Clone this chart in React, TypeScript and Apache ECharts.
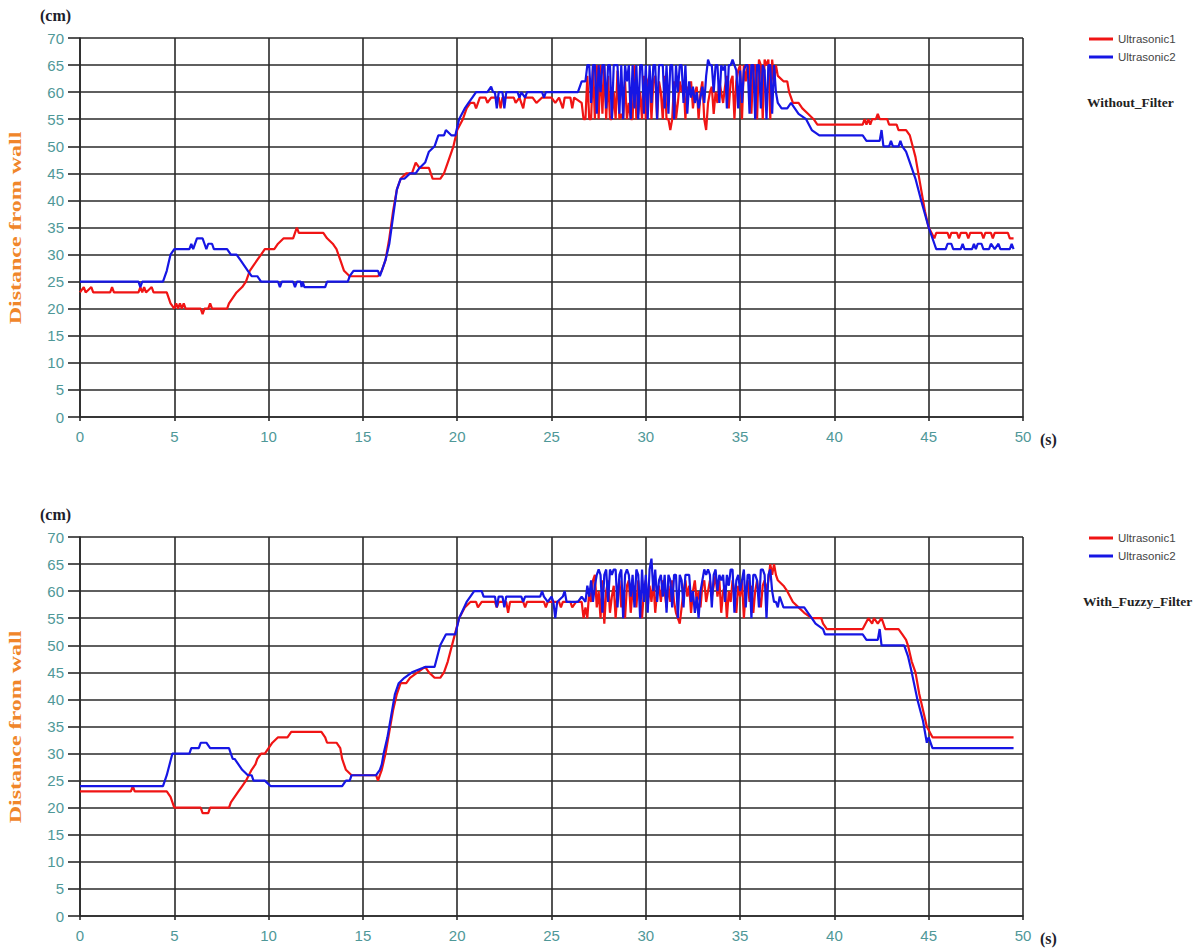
import React, { useEffect, useRef } from "react";
import * as echarts from "echarts";

// ---------- DATA ----------
const seriesNames = ["Ultrasonic1", "Ultrasonic2"];
const panelTitles = ["Without_Filter", "With_Fuzzy_Filter"];
const xMax = 50;
const yMax = 70;
const tickStep = 5;

// Noisy middle section: values sampled every 0.1 s from 26.8 s to 37.0 s
const NOISE_START = 26.8;
const NOISE_STEP = 0.1;

// ---- Top panel (Without_Filter) ----
const topU1Before: [number, number][] = [
  [0, 23], [0.2, 24], [0.3, 23], [0.6, 24], [0.7, 23], [1.6, 23], [1.7, 24], [1.8, 23],
  [3.1, 23], [3.2, 24], [3.3, 23], [3.4, 24], [3.5, 23], [3.8, 24], [3.9, 23], [4.6, 23],
  [4.8, 21], [5.0, 20], [5.1, 21], [5.2, 20], [5.3, 21], [5.4, 20], [5.5, 21], [5.6, 20],
  [6.4, 20], [6.5, 19], [6.6, 20], [6.8, 20], [6.9, 21], [7.0, 20], [7.8, 20], [7.9, 21],
  [8.1, 22], [8.3, 23], [8.6, 24], [8.8, 25], [9.0, 27], [9.2, 28], [9.4, 29], [9.6, 30],
  [9.8, 31], [10.3, 31], [10.5, 32], [10.8, 33], [11.3, 33], [11.4, 34], [11.5, 35], [11.6, 34],
  [12.9, 34], [13.1, 33], [13.4, 32], [13.6, 31], [13.8, 29], [14.0, 27], [14.3, 26], [15.8, 26],
  [16.0, 27], [16.2, 29], [16.4, 33], [16.6, 38], [16.8, 42], [17.0, 44], [17.3, 45], [17.6, 45],
  [17.8, 47], [18.0, 46], [18.5, 46], [18.7, 44], [19.1, 44], [19.3, 45], [19.5, 47], [19.8, 50],
  [20.0, 53], [20.3, 55], [20.5, 57], [20.7, 58], [20.9, 58], [21.0, 57], [21.2, 59], [21.5, 59],
  [21.6, 58], [21.8, 59], [22.2, 59], [22.3, 57], [22.4, 59], [23.0, 59], [23.1, 58], [23.3, 59],
  [23.5, 57], [23.6, 59], [24.0, 59], [24.2, 58], [24.5, 59], [25.0, 59], [25.2, 58], [25.4, 59],
  [25.6, 57], [25.7, 59], [26.0, 59], [26.1, 57], [26.2, 59], [26.6, 58], [26.7, 55],
];
const topU1Noise: number[] = [
  55, 63, 55, 55, 65, 55, 65, 55, 65, 56,
  65, 55, 63, 55, 55, 60, 55, 64, 55, 56,
  55, 62, 55, 58, 55, 55, 65, 55, 56, 60,
  55, 63, 55, 62, 63, 55, 62, 63, 55, 62,
  60, 55, 63, 55, 55, 53, 55, 62, 55, 58,
  62, 60, 62, 55, 61, 60, 62, 57, 60, 61,
  55, 60, 62, 55, 53, 58, 60, 61, 56, 60,
  58, 62, 60, 58, 61, 63, 57, 62, 63, 55,
  62, 64, 65, 55, 65, 62, 65, 65, 56, 65,
  65, 55, 66, 65, 55, 66, 65, 66, 55, 66,
  62, 65, 63,
];
const topU1After: [number, number][] = [
  [37.3, 62], [37.5, 62], [37.6, 60], [37.8, 58], [38.1, 58], [38.3, 57], [38.6, 56], [38.9, 55],
  [39.1, 54], [41.5, 54], [41.6, 55], [41.7, 54], [41.8, 55], [41.9, 54], [42.0, 55], [42.2, 55],
  [42.3, 56], [42.4, 55], [42.8, 55], [42.9, 54], [43.3, 54], [43.4, 53], [43.8, 53], [44.0, 52],
  [44.15, 50], [44.3, 48], [44.45, 45], [44.6, 42], [44.8, 38], [45.0, 35], [45.3, 33], [45.4, 34],
  [46.0, 34], [46.1, 33], [46.2, 34], [46.5, 34], [46.6, 33], [46.7, 34], [47.0, 34], [47.1, 33],
  [47.2, 34], [47.8, 34], [47.9, 33], [48.0, 34], [48.3, 34], [48.4, 33], [48.5, 34], [49.2, 34],
  [49.3, 33], [49.5, 33],
];

const topU2Before: [number, number][] = [
  [0, 25], [3.1, 25], [3.2, 24], [3.3, 25], [4.4, 25], [4.6, 27], [4.8, 30], [5.0, 31],
  [5.8, 31], [5.9, 32], [6.0, 31], [6.2, 33], [6.5, 33], [6.6, 32], [6.7, 31], [6.8, 32],
  [7.0, 32], [7.1, 31], [7.8, 31], [8.0, 30], [8.3, 30], [8.5, 29], [8.7, 28], [8.9, 27],
  [9.1, 26], [9.4, 26], [9.6, 25], [10.5, 25], [10.6, 24], [10.7, 25], [11.3, 25], [11.4, 24],
  [11.5, 25], [11.7, 25], [11.75, 24], [11.8, 25], [11.9, 24], [13.0, 24], [13.1, 25], [14.2, 25],
  [14.3, 26], [14.5, 27], [15.8, 27], [15.9, 26], [16.1, 28], [16.2, 29], [16.4, 32], [16.6, 37],
  [16.8, 42], [17.0, 44], [17.2, 44], [17.5, 45], [17.8, 45], [18.0, 46], [18.3, 47], [18.5, 49],
  [18.8, 50], [19.0, 52], [19.3, 52], [19.4, 53], [19.7, 52], [19.9, 52], [20.1, 55], [20.4, 57],
  [20.6, 58], [20.8, 59], [21.0, 60], [21.6, 60], [21.8, 61], [21.9, 60], [22.0, 60], [22.1, 57],
  [22.2, 60], [22.4, 60], [22.5, 57], [22.6, 60], [23.2, 60], [23.3, 59], [23.4, 60], [23.6, 59],
  [23.7, 60], [24.5, 60], [24.6, 59], [24.7, 60], [26.4, 60], [26.6, 62],
];
const topU2Noise: number[] = [
  62, 65, 65, 58, 65, 65, 56, 65, 60, 65,
  65, 57, 65, 65, 55, 65, 65, 65, 56, 65,
  55, 65, 62, 65, 55, 65, 57, 65, 55, 65,
  65, 56, 65, 55, 65, 58, 65, 65, 55, 65,
  65, 65, 57, 65, 56, 65, 65, 55, 65, 60,
  65, 65, 58, 65, 56, 62, 59, 61, 58, 60,
  57, 59, 61, 58, 63, 66, 65, 65, 60, 65,
  65, 58, 65, 64, 65, 57, 65, 65, 66, 65,
  64, 57, 64, 58, 64, 65, 65, 56, 65, 65,
  55, 65, 65, 57, 65, 64, 55, 65, 65, 56,
  65, 60, 58,
];
const topU2After: [number, number][] = [
  [37.2, 57], [37.5, 57], [37.7, 58], [37.9, 57], [38.1, 56], [38.5, 55], [38.8, 53], [39.2, 52],
  [41.5, 52], [41.7, 51], [42.4, 51], [42.5, 53], [42.6, 50], [42.9, 50], [43.0, 51], [43.1, 50],
  [43.4, 50], [43.5, 51], [43.6, 50], [43.8, 49], [44.1, 46], [44.3, 44], [44.6, 40], [45.0, 35],
  [45.3, 32], [45.4, 31], [45.9, 31], [46.0, 32], [46.2, 32], [46.3, 31], [46.7, 31], [46.8, 32],
  [46.9, 31], [47.3, 31], [47.4, 32], [47.5, 31], [47.6, 32], [47.8, 32], [47.9, 31], [48.2, 31],
  [48.3, 32], [48.5, 31], [48.7, 32], [48.8, 31], [49.3, 31], [49.4, 32], [49.5, 31],
];

// ---- Bottom panel (With_Fuzzy_Filter) ----
const botU1Before: [number, number][] = [
  [0, 23], [2.7, 23], [2.8, 24], [2.9, 23], [4.6, 23], [4.8, 22], [5.0, 20], [6.4, 20],
  [6.5, 19], [6.8, 19], [6.9, 20], [7.9, 20], [8.0, 21], [8.2, 22], [8.4, 23], [8.6, 24],
  [8.8, 25], [9.1, 27], [9.3, 28], [9.4, 29], [9.6, 30], [9.8, 30], [10.0, 31], [10.2, 32],
  [10.5, 33], [11.0, 33], [11.2, 34], [12.8, 34], [13.0, 33], [13.1, 32], [13.6, 32], [13.8, 31],
  [13.9, 29], [14.1, 27], [14.4, 26], [15.7, 26], [15.8, 25], [15.9, 26], [16.0, 27], [16.2, 30],
  [16.4, 34], [16.6, 38], [16.8, 41], [17.0, 43], [17.3, 43], [17.5, 44], [17.9, 45], [18.3, 46],
  [18.5, 45], [18.8, 44], [19.1, 44], [19.3, 45], [19.5, 47], [19.8, 51], [20.1, 55], [20.4, 57],
  [20.7, 58], [21.0, 58], [21.1, 57], [21.3, 58], [22.0, 58], [22.1, 57], [22.2, 58], [22.6, 58],
  [22.7, 56], [22.8, 58], [23.5, 58], [23.6, 57], [23.7, 58], [24.6, 58], [24.7, 57], [24.8, 58],
  [25.4, 58], [25.5, 57], [25.6, 58], [26.0, 58], [26.1, 57], [26.3, 58], [26.6, 58], [26.7, 55],
];
const botU1Noise: number[] = [
  57, 55, 60, 58, 62, 63, 57, 60, 55, 62,
  54, 60, 62, 56, 59, 61, 55, 60, 62, 57,
  60, 55, 61, 62, 56, 60, 61, 57, 62, 58,
  55, 60, 62, 57, 61, 58, 62, 56, 60, 61,
  58, 62, 60, 57, 61, 58, 62, 58, 56, 55,
  54, 57, 60, 62, 59, 61, 56, 60, 62, 58,
  60, 57, 61, 62, 58, 60, 62, 59, 61, 63,
  59, 62, 56, 60, 61, 55, 60, 58, 62, 60,
  56, 61, 59, 62, 55, 60, 62, 58, 61, 56,
  60, 62, 59, 57, 61, 62, 60, 62, 65, 63,
  65, 63, 62,
];
const botU1After: [number, number][] = [
  [37.3, 61], [37.5, 60], [37.8, 58], [38.1, 57], [38.4, 56], [38.8, 55], [39.3, 55], [39.4, 54],
  [39.6, 53], [41.5, 53], [41.8, 55], [42.0, 54], [42.1, 55], [42.3, 54], [42.5, 55], [42.7, 53],
  [43.4, 53], [43.6, 52], [43.8, 51], [43.9, 50], [44.1, 47], [44.3, 45], [44.5, 41], [44.7, 38],
  [44.9, 35], [45.2, 33], [49.5, 33],
];

const botU2Before: [number, number][] = [
  [0, 24], [4.4, 24], [4.6, 26], [4.9, 30], [5.8, 30], [5.9, 31], [6.3, 31], [6.4, 32],
  [6.7, 32], [6.9, 31], [7.9, 31], [8.0, 30], [8.1, 29], [8.2, 29], [8.4, 28], [8.6, 27],
  [8.9, 26], [9.1, 26], [9.2, 25], [9.8, 25], [10.1, 24], [13.9, 24], [14.1, 25], [14.3, 25],
  [14.4, 26], [15.7, 26], [15.9, 27], [16.0, 28], [16.1, 30], [16.3, 33], [16.5, 37], [16.7, 41],
  [16.9, 43], [17.2, 44], [17.6, 45], [18.3, 46], [18.8, 46], [19.1, 50], [19.4, 52], [19.9, 52],
  [20.1, 55], [20.5, 58], [20.9, 60], [21.3, 60], [21.4, 59], [22.0, 59], [22.1, 57], [22.2, 59],
  [22.4, 59], [22.5, 57], [22.6, 59], [23.4, 59], [23.5, 58], [23.6, 59], [24.4, 59], [24.5, 60],
  [24.6, 59], [24.8, 58], [25.0, 59], [25.1, 58], [25.2, 55], [25.3, 58], [25.6, 59], [25.7, 60],
  [25.8, 58], [26.4, 58], [26.6, 59],
];
const botU2Noise: number[] = [
  58, 61, 59, 62, 58, 61, 63, 64, 63, 56,
  63, 64, 58, 64, 63, 64, 64, 57, 63, 64,
  55, 63, 64, 63, 59, 63, 57, 64, 63, 55,
  64, 58, 63, 56, 64, 66, 60, 64, 58, 62,
  63, 59, 63, 56, 63, 62, 57, 63, 63, 55,
  63, 62, 57, 63, 63, 63, 58, 60, 56, 59,
  55, 60, 62, 64, 63, 64, 63, 57, 63, 64,
  60, 63, 62, 63, 58, 63, 61, 64, 64, 56,
  62, 63, 60, 62, 64, 57, 63, 63, 55, 63,
  63, 62, 57, 64, 64, 63, 55, 63, 64, 60,
  58, 58, 57,
];
const botU2After: [number, number][] = [
  [37.1, 59], [37.3, 57], [38.4, 57], [38.6, 56], [38.8, 55], [39.0, 54], [39.4, 53], [39.5, 52],
  [41.5, 52], [41.7, 51], [42.3, 51], [42.4, 53], [42.5, 50], [43.7, 50], [43.9, 48], [44.1, 45],
  [44.4, 40], [44.7, 36], [44.9, 32], [45.0, 33], [45.2, 31], [49.5, 31],
];

// ---------- BUILD ----------
function build(before: [number, number][], noise: number[], after: [number, number][]) {
  const pts: [number, number][] = before.slice();
  noise.forEach((v, i) => pts.push([Math.round((NOISE_START + i * NOISE_STEP) * 100) / 100, v]));
  return pts.concat(after);
}

const panels = [
  { u1: build(topU1Before, topU1Noise, topU1After), u2: build(topU2Before, topU2Noise, topU2After) },
  { u1: build(botU1Before, botU1Noise, botU1After), u2: build(botU2Before, botU2Noise, botU2After) },
];

const RED = "#f01414";
const BLUE = "#1616e4";
const AXIS = "#2a2a2a";
const LABEL = "#4f9898";
const SANS = "'Liberation Sans Narrow', 'Liberation Sans', Arial, sans-serif";
const SERIF = "'Liberation Serif', 'DejaVu Serif', serif";

const gridTops = [38, 537];
const gridHeight = 379;

export default function App() {
  const ref = useRef<HTMLDivElement>(null);
  useEffect(() => {
    if (!ref.current) return;
    const chart = echarts.init(ref.current, undefined, { renderer: "svg" });

    const grids = gridTops.map((t) => ({ left: 80, top: t, width: 943, height: gridHeight }));
    const xAxes = gridTops.map((_, i) => ({
      type: "value",
      gridIndex: i,
      min: 0,
      max: xMax,
      interval: tickStep,
      axisLine: { show: true, onZero: false, lineStyle: { color: AXIS, width: 1.6 } },
      axisTick: { show: true, length: 4, lineStyle: { color: AXIS, width: 1.6 } },
      axisLabel: { color: LABEL, fontSize: 15, margin: 12, fontFamily: SANS },
      splitLine: { show: true, lineStyle: { color: AXIS, width: 1.6 } },
    }));
    const yAxes = gridTops.map((_, i) => ({
      type: "value",
      gridIndex: i,
      min: 0,
      max: yMax,
      interval: tickStep,
      axisLine: { show: true, lineStyle: { color: AXIS, width: 1.6 } },
      axisTick: { show: true, length: 12, lineStyle: { color: AXIS, width: 1.6 } },
      axisLabel: { color: LABEL, fontSize: 15, margin: 16, fontFamily: SANS },
      splitLine: { show: true, lineStyle: { color: AXIS, width: 1.6 } },
    }));

    const series: any[] = [];
    panels.forEach((p, i) => {
      series.push({
        type: "line", name: seriesNames[0], xAxisIndex: i, yAxisIndex: i, data: p.u1,
        symbol: "none", showSymbol: false, lineStyle: { color: RED, width: 2.2 }, itemStyle: { color: RED },
      });
      series.push({
        type: "line", name: seriesNames[1], xAxisIndex: i, yAxisIndex: i, data: p.u2,
        symbol: "none", showSymbol: false, lineStyle: { color: BLUE, width: 2.2 }, itemStyle: { color: BLUE },
      });
    });

    const legends = gridTops.map((t) => ({
      left: 1084,
      top: t - 12,
      orient: "vertical",
      icon: "rect",
      itemWidth: 24,
      itemHeight: 3,
      itemGap: 2,
      data: seriesNames,
      textStyle: { fontSize: 11.5, color: "#444", fontFamily: SANS, lineHeight: 16 },
    }));

    const graphic: any[] = [];
    gridTops.forEach((t, i) => {
      graphic.push({
        type: "text", left: 40, top: t - 31,
        style: { text: "(cm)", font: `bold 16px ${SERIF}`, fill: "#1d1d2b" },
      });
      graphic.push({
        type: "text", left: 1040, top: t + gridHeight + 14,
        style: { text: "(s)", font: `bold 16px ${SERIF}`, fill: "#1d1d2b" },
      });
      graphic.push({
        type: "text", x: 16, y: t + 190, rotation: Math.PI / 2, scaleX: 1.5,
        style: { text: "Distance from wall", font: `bold 16px ${SERIF}`, fill: "#f0862a", align: "center", verticalAlign: "middle" },
      });
      graphic.push({
        type: "text", left: i === 0 ? 1087 : 1083, top: t + 57,
        style: { text: panelTitles[i], font: `bold 13.5px ${SERIF}`, fill: "#222" },
      });
    });

    chart.setOption({
      animation: false,
      backgroundColor: "#ffffff",
      grid: grids,
      xAxis: xAxes,
      yAxis: yAxes,
      legend: legends,
      series,
      graphic,
    });
    return () => chart.dispose();
  }, []);
  return <div ref={ref} style={{ position: "absolute", left: 0, top: 0, width: 1203, height: 951 }} />;
}
